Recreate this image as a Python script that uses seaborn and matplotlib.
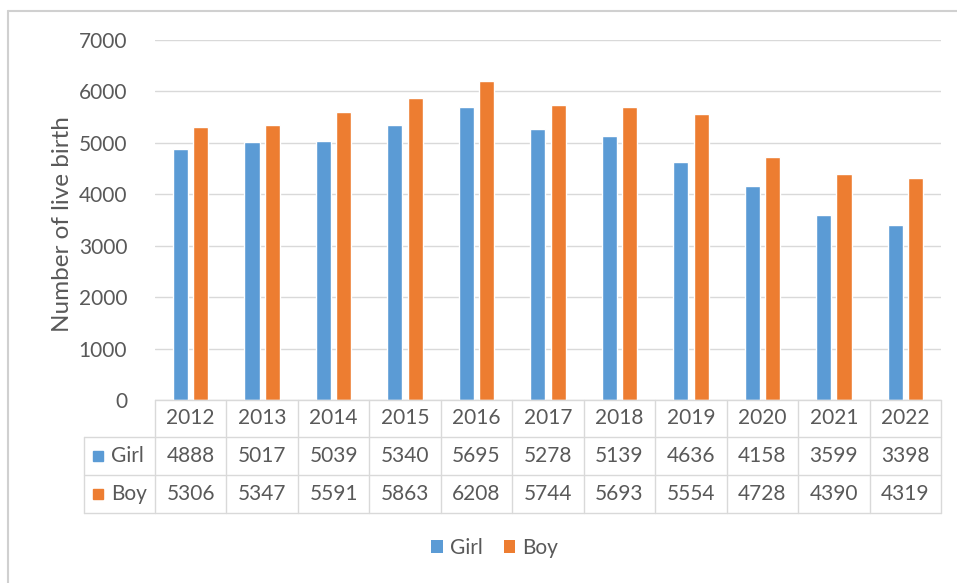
import matplotlib
matplotlib.use("Agg")
import matplotlib.pyplot as plt
import matplotlib.transforms as mtransforms
from matplotlib.patches import Patch
from matplotlib.lines import Line2D
import seaborn as sns
import pandas as pd

years = ["2012", "2013", "2014", "2015", "2016", "2017", "2018", "2019", "2020", "2021", "2022"]
girl = [4888, 5017, 5039, 5340, 5695, 5278, 5139, 4636, 4158, 3599, 3398]
boy = [5306, 5347, 5591, 5863, 6208, 5744, 5693, 5554, 4728, 4390, 4319]
series = ["Girl", "Boy"]
colors = ["#5B9BD5", "#ED7D31"]
yticks = [0, 1000, 2000, 3000, 4000, 5000, 6000, 7000]
ylabel = "Number of live birth"

sns.set_theme(style="white")
plt.rcParams["font.family"] = ["Lato", "DejaVu Sans"]
TXT = "#595959"
GRID = "#d9d9d9"
FS = 15

df = pd.DataFrame({
    "year": years * 2,
    "sex": ["Girl"] * len(years) + ["Boy"] * len(years),
    "births": girl + boy,
})

W, H = 957, 583
fig = plt.figure(figsize=(W / 100, H / 100), dpi=100)
fig.patch.set_facecolor("white")
ax = fig.add_axes([155 / W, (H - 400) / H, (941 - 155) / W, 360 / H])

sns.barplot(data=df, x="year", y="births", hue="sex", hue_order=series,
            palette=colors, order=years, width=0.57, gap=0.26,
            saturation=1, ax=ax, legend=False)

ax.set_ylim(0, 7000)
ax.set_xlim(-0.5, len(years) - 0.5)
ax.set_yticks(yticks)
ax.set_yticklabels([str(v) for v in yticks], fontsize=FS, color=TXT)
ax.tick_params(axis="y", length=0, pad=20)
ax.set_xticks([])
ax.set_xlabel("")
ax.set_ylabel(ylabel, fontsize=17.5, color=TXT)
ax.yaxis.set_label_coords(-0.104, 0.49)
ax.yaxis.grid(True, color=GRID, lw=1)
ax.set_axisbelow(True)
for s in ax.spines.values():
    s.set_visible(False)

# Data table below the axis
tr = mtransforms.blended_transform_factory(ax.transData, ax.transAxes)
n = len(years)
yh = -(437 - 400) / 360
yg = -(475 - 400) / 360
yb = -(513 - 400) / 360
lkw = dict(color=GRID, lw=1, transform=tr, clip_on=False)
# horizontal lines
ax.add_line(Line2D([-0.5, n - 0.5], [0, 0], **lkw))
for yy in (yh, yg, yb):
    ax.add_line(Line2D([-1.5, n - 0.5], [yy, yy], **lkw))
# vertical lines
for i in range(n + 1):
    ax.add_line(Line2D([i - 0.5, i - 0.5], [0, yb], **lkw))
ax.add_line(Line2D([-1.5, -1.5], [yh, yb], **lkw))

row_c = [(0 + yh) / 2, (yh + yg) / 2, (yg + yb) / 2]
for i, yr in enumerate(years):
    ax.text(i, row_c[0], yr, ha="center", va="center", fontsize=FS,
            color=TXT, transform=tr, clip_on=False)
    ax.text(i, row_c[1], str(girl[i]), ha="center", va="center", fontsize=FS,
            color=TXT, transform=tr, clip_on=False)
    ax.text(i, row_c[2], str(boy[i]), ha="center", va="center", fontsize=FS,
            color=TXT, transform=tr, clip_on=False)
for k, (name, c) in enumerate(zip(series, colors)):
    yy = row_c[k + 1]
    ax.plot([-1.30], [yy], marker="s", ms=7.5, color=c, transform=tr,
            clip_on=False, lw=0)
    ax.text(-1.12, yy, name, ha="left", va="center", fontsize=FS,
            color=TXT, transform=tr, clip_on=False)

# Legend
handles = [Patch(facecolor=c, edgecolor="none", label=s) for s, c in zip(series, colors)]
fig.legend(handles=handles, loc="center", bbox_to_anchor=(0.517, (H - 548) / H),
           ncol=2, frameon=False, fontsize=FS, labelcolor=TXT,
           handlelength=0.55, handleheight=0.55, handletextpad=0.35,
           columnspacing=1.0)

# chart border
fig.add_artist(Line2D([8 / W, 1], [1 - 11 / H, 1 - 11 / H], color="#d0d0d0", lw=1.5,
                      transform=fig.transFigure))
fig.add_artist(Line2D([8 / W, 8 / W], [0, 1 - 11 / H], color="#d0d0d0", lw=1.5,
                      transform=fig.transFigure))

fig.savefig("out.png", dpi=100, facecolor="white")
